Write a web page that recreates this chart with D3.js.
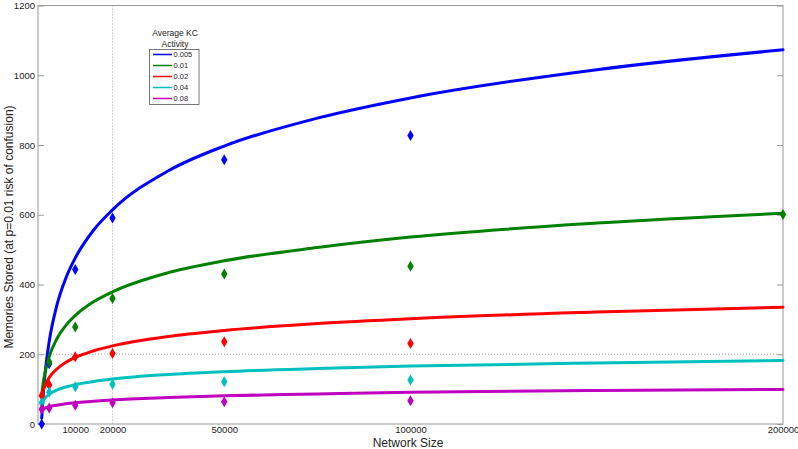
<!DOCTYPE html>
<html><head><meta charset="utf-8">
<script src="https://cdn.jsdelivr.net/npm/d3@7"></script>
<style>
body{margin:0;background:#fff;}
text{font-family:"Liberation Sans",Arial,sans-serif;}
</style></head>
<body><svg id="c" width="798" height="449"></svg>
<script>
// ---- data ----
const seriesNames = ["0.005","0.01","0.02","0.04","0.08"];
const seriesColors = ["#0000ff","#008000","#ff0000","#00bfbf","#bf00bf"];
const networkSizes = [1000, 3000, 10000, 20000, 50000, 100000, 200000];
const pts005 = [0, 173, 443, 591, 758, 827, null];
const pts01  = [null, 178, 278, 360, 430, 452, 601];
const pts02  = [81, 112, 193, 202, 236, 231, null];
const pts04  = [61, 91, 107, 114, 121, 126, null];
const pts08  = [42, 46, 54, 61, 64, 67, null];
const fitX   = [1000, 1500, 2000, 3000, 5000, 7500, 10000, 15000, 20000, 35000, 50000, 75000, 100000, 150000, 200000];
const fit005 = [17, 98, 155, 236, 338, 419, 476, 557, 614, 726, 797, 877, 935, 1016, 1073];
const fit01  = [85, 125, 153, 193, 243, 283, 311, 351, 379, 434, 468, 506, 536, 576, 604];
const fit02  = [80, 100, 113, 133, 157, 177, 191, 210, 224, 251, 268, 288, 302, 321, 335];
const fit04  = [60, 69, 76, 85, 97, 106, 113, 122, 129, 142, 150, 159, 166, 175, 182];
const fit08  = [40, 43, 46, 50, 54, 58, 61, 65, 69, 76, 81, 86, 91, 96, 99];
const xTicks = [10000, 20000, 50000, 100000, 200000];
const yTicks = [0, 200, 400, 600, 800, 1000, 1200];
const legendTitle = ["Average KC", "Activity"];
const xTitle = "Network Size";
const yTitle = "Memories Stored (at p=0.01 risk of confusion)";

const pointSets = [pts005, pts01, pts02, pts04, pts08];
const fitSets = [fit005, fit01, fit02, fit04, fit08];

// ---- chart ----
const svg = d3.select("#c");
const L = 38, R = 783, T = 5.5, B = 424;
const x = d3.scaleLinear().domain([0, 200000]).range([L, R]);
const y = d3.scaleLinear().domain([0, 1200]).range([B, T]);
const axisCol = "#999";

// grid lines (dotted) at 20000 and 200
svg.append("line").attr("x1", x(20000)).attr("x2", x(20000)).attr("y1", T).attr("y2", B)
  .attr("stroke", "#aaa").attr("stroke-dasharray", "1,2");
svg.append("line").attr("x1", L).attr("x2", R).attr("y1", y(200)).attr("y2", y(200))
  .attr("stroke", "#aaa").attr("stroke-dasharray", "1,2");

// frame
svg.append("rect").attr("x", L).attr("y", T).attr("width", R - L).attr("height", B - T)
  .attr("fill", "none").attr("stroke", axisCol).attr("stroke-width", 1);

// y axis left
const ya = svg.append("g").attr("transform", `translate(${L},0)`)
  .call(d3.axisLeft(y).tickValues(yTicks).tickSizeInner(-6).tickSizeOuter(0).tickPadding(3).tickFormat(d3.format("d")));
ya.select(".domain").remove();
ya.selectAll("line").attr("stroke", axisCol);
ya.selectAll("text").attr("font-size", "9.5px").attr("fill", "#222");
// y axis right ticks
const yr = svg.append("g").attr("transform", `translate(${R},0)`)
  .call(d3.axisRight(y).tickValues(yTicks).tickSizeInner(-6).tickSizeOuter(0).tickFormat(""));
yr.select(".domain").remove();
yr.selectAll("line").attr("stroke", axisCol);

// x axis
const xa = svg.append("g").attr("transform", `translate(0,${B})`)
  .call(d3.axisBottom(x).tickValues(xTicks).tickSizeInner(0).tickSizeOuter(0).tickPadding(2).tickFormat(d3.format("d")));
xa.select(".domain").remove();
xa.selectAll("text").attr("font-size", "9.5px").attr("fill", "#222");

// titles
svg.append("text").attr("x", 408).attr("y", 447).attr("text-anchor", "middle")
  .attr("font-size", "12px").attr("fill", "#222").text(xTitle);
svg.append("text").attr("transform", "translate(12.5,227) rotate(-90)").attr("text-anchor", "middle")
  .attr("font-size", "12px").attr("fill", "#222").text(yTitle);

// fit curves
const line = d3.line().x(d => x(d[0])).y(d => y(d[1])).curve(d3.curveMonotoneX);
fitSets.forEach((s, i) => {
  svg.append("path").datum(fitX.map((v, j) => [v, s[j]]))
    .attr("d", line).attr("fill", "none").attr("stroke", seriesColors[i]).attr("stroke-width", 3)
    .attr("stroke-linecap", "round");
});

// points
const diamond = "M0,-5.5L3.2,0L0,5.5L-3.2,0Z";
pointSets.forEach((s, i) => {
  svg.append("g").selectAll("path")
    .data(networkSizes.map((v, j) => [v, s[j]]).filter(d => d[1] !== null))
    .join("path").attr("d", diamond)
    .attr("transform", d => `translate(${x(d[0])},${y(d[1])})`)
    .attr("fill", seriesColors[i]);
});

// legend
const lg = svg.append("g");
legendTitle.forEach((t, i) => {
  lg.append("text").attr("x", 175).attr("y", 36 + i * 11).attr("text-anchor", "middle")
    .attr("font-size", "8.5px").attr("fill", "#222").text(t);
});
lg.append("rect").attr("x", 149.5).attr("y", 49.5).attr("width", 49.5).attr("height", 55)
  .attr("fill", "#fff").attr("stroke", "#555").attr("stroke-width", 0.8);
seriesNames.forEach((n, i) => {
  const yy = 54.5 + i * 11;
  lg.append("line").attr("x1", 153).attr("x2", 172).attr("y1", yy).attr("y2", yy)
    .attr("stroke", seriesColors[i]).attr("stroke-width", 1.5);
  lg.append("text").attr("x", 173.5).attr("y", yy + 2.6).attr("font-size", "7.5px").attr("fill", "#222").text(n);
});
</script></body></html>
